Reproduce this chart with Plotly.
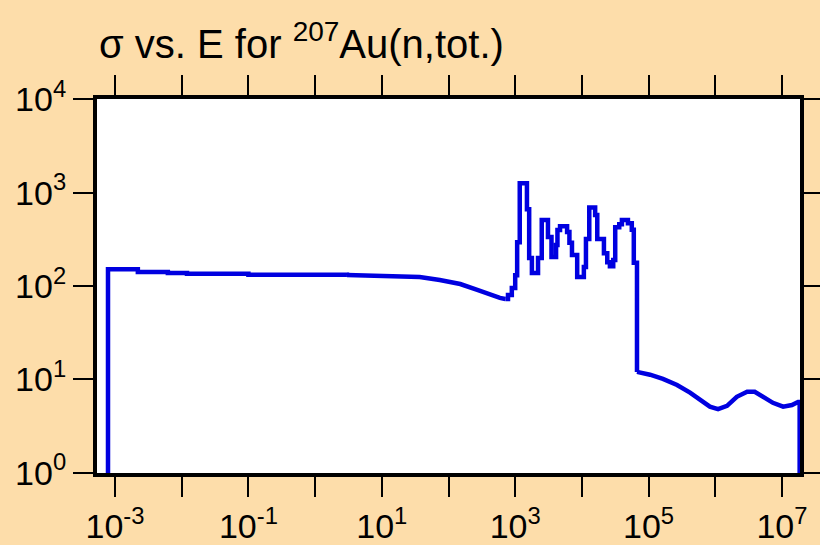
import plotly.graph_objects as go

# Energy (eV) and total cross section (b)
low_E = [7.85e-4, 7.85e-4, 2.2e-3, 6.2e-3, 1.2e-2, 1.0e-1, 3.0]
low_sigma = [0.5, 151, 141, 138, 135, 132, 131]

slope_E = [3.0, 1.9e1, 3.7e1, 7.4e1, 1.5e2, 2.7e2, 4.2e2, 5.9e2, 7.1e2]
slope_sigma = [131, 129, 125, 116, 105, 91, 80, 74.5, 72.5]

res_E = [7.1e2, 7.8e2, 8.9e2, 1.0e3, 1.07e3, 1.17e3,
         1.5e3, 1.62e3, 1.78e3, 2.2e3, 2.5e3, 3.1e3, 3.5e3, 4.1e3, 4.3e3, 4.7e3,
         6.0e3, 6.5e3, 7.1e3, 8.5e3, 1.07e4, 1.15e4, 1.29e4, 1.58e4, 1.7e4, 2.14e4,
         2.4e4, 2.63e4, 2.95e4, 3.16e4, 3.63e4, 3.98e4, 4.9e4, 5.6e4, 6.0e4, 6.7e4]
res_sigma = [72.5, 80, 95, 130, 295, 1260,
             665, 200, 138, 200, 510, 335, 204, 275, 398, 437,
             380, 290, 215, 125, 160, 318, 695, 575, 318, 225,
             180, 163, 190, 427, 460, 510, 470, 400, 177, 12.0]

tail_E = [6.7e4, 1.05e5, 1.64e5, 2.67e5, 4.18e5, 5.9e5, 8.3e5, 1.1e6, 1.5e6, 2.1e6,
          3.0e6, 3.9e6, 5.2e6, 7.3e6, 1.04e7, 1.41e7, 1.74e7, 1.84e7, 1.84e7]
tail_sigma = [12.0, 11.2, 10.1, 8.7, 7.2, 6.0, 5.1, 4.8, 5.2, 6.5,
              7.35, 7.35, 6.5, 5.6, 5.1, 5.3, 5.7, 5.7, 0.5]

x_tickvals = [10.0 ** k for k in range(-3, 8)]
x_ticktext = ["10<sup>%d</sup>" % k if k % 2 else "" for k in range(-3, 8)]
y_tickvals = [10.0 ** k for k in range(0, 5)]
y_ticktext = ["10<sup>%d</sup>" % k for k in range(0, 5)]

title_text = "σ vs. E for <sup>207</sup>Au(n,tot.)"

BLUE = "#0000E0"
BG = "#FDDDAA"
FAMILY = "Liberation Sans, Arial, sans-serif"

fig = go.Figure()
for xs, ys, shape in [(low_E, low_sigma, "hv"), (slope_E, slope_sigma, "linear"),
                      (res_E, res_sigma, "hv"), (tail_E, tail_sigma, "linear")]:
    fig.add_trace(go.Scatter(x=xs, y=ys, mode="lines",
                             line=dict(color=BLUE, width=4.5, shape=shape),
                             showlegend=False, hoverinfo="skip"))

font = dict(family=FAMILY, size=34, color="black")

fig.update_layout(
    width=820, height=545,
    paper_bgcolor=BG, plot_bgcolor="white",
    margin=dict(l=97, r=20, t=99, b=72, autoexpand=False),
    font=font,
    title=dict(text=title_text, x=99 / 820, xanchor="left", xref="container",
               y=1 - 44 / 545, yanchor="middle", yref="container",
               font=dict(family=FAMILY, size=40, color="black"), automargin=False),
    xaxis=dict(type="log", range=[-3.27, 7.27], tickvals=x_tickvals, ticktext=x_ticktext,
               ticks="outside", ticklen=20, tickwidth=2, tickcolor="black",
               showline=True, linewidth=4, linecolor="black", mirror="ticks",
               showgrid=False, zeroline=False, tickfont=font, automargin=False),
    yaxis=dict(type="log", range=[-0.004, 4.004], tickvals=y_tickvals, ticktext=y_ticktext,
               ticks="outside", ticklen=20, tickwidth=2, tickcolor="black",
               showline=True, linewidth=4, linecolor="black", mirror="ticks",
               showgrid=False, zeroline=False, tickfont=font, automargin=False),
)

fig.write_html("out.html", config={"displayModeBar": False},
               post_script="document.body.style.margin='0px';document.body.style.overflow='hidden';")
